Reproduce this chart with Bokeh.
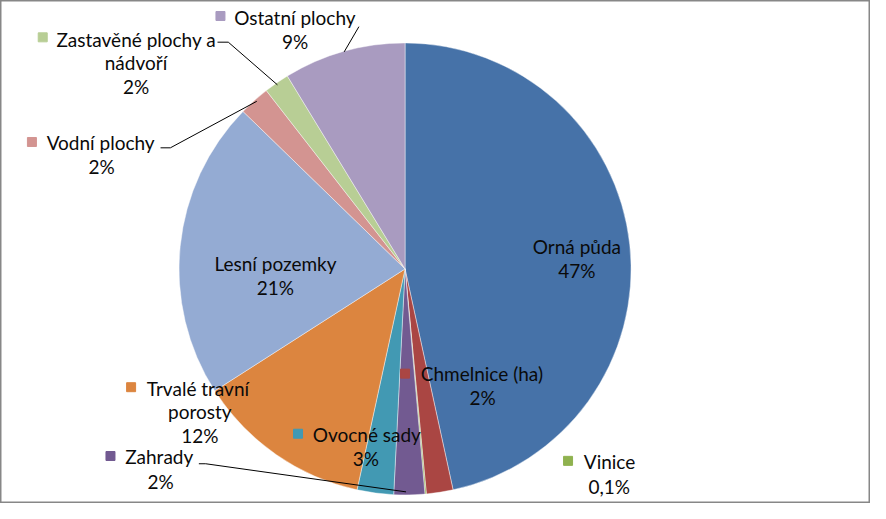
import math
from bokeh.plotting import figure
from bokeh.models import Range1d, ColumnDataSource
from bokeh.core.properties import value
from bokeh.embed import file_html
from bokeh.resources import INLINE

# ---- data (clockwise from 12 o'clock) ----
categories = ["Orná půda", "Chmelnice (ha)", "Vinice", "Zahrady", "Ovocné sady",
              "Trvalé travní porosty", "Lesní pozemky", "Vodní plochy",
              "Zastavěné plochy a nádvoří", "Ostatní plochy"]
shares = [46.5, 1.9, 0.1, 2.2, 2.6, 12.5, 21.3, 2.2, 1.8, 8.7]
pct_labels = ["47%", "2%", "0,1%", "2%", "3%", "12%", "21%", "2%", "2%", "9%"]
colors = ["#4672A8", "#AA4643", "#8FB24F", "#725A91", "#4299B3",
          "#DC853F", "#94ABD3", "#D39491", "#B8CE95", "#A99BC0"]

W, H = 886, 519                     # reference canvas (layout coordinates)
FW, FH = 870, 503                   # figure size
CX, CY = 412, 277                   # pie centre (layout coordinates)
R_SCREEN = 226                      # pie radius in screen pixels

def fy(y):                          # layout y (top-down) -> data y
    return H - y

p = figure(width=FW, height=FH, output_backend="svg", toolbar_location=None,
           x_range=Range1d(0, W), y_range=Range1d(0, H), min_border=0)
p.axis.visible = False
p.grid.visible = False
p.background_fill_color = "white"
p.border_fill_color = "white"
p.outline_line_color = "#878787"
p.outline_line_width = 2

total = sum(shares)
starts, ends = [], []
cum = 0.0
for s in shares:
    a0 = math.pi / 2 - 2 * math.pi * cum / total
    cum += s
    a1 = math.pi / 2 - 2 * math.pi * cum / total
    starts.append(a1)
    ends.append(a0)

src = ColumnDataSource(dict(x=[CX] * len(shares), y=[fy(CY)] * len(shares),
                            start=starts, end=ends, color=colors))
p.wedge(x="x", y="y", radius=R_SCREEN, radius_units="screen", start_angle="start",
        end_angle="end", direction="anticlock", fill_color="color",
        line_color="white", line_width=0.6, line_alpha=0.7, source=src)

# ---- label layout (layout coordinates) ----
FS = "19px"
FONT = value("Lato")
labels = {
    0: dict(lines=[("Orná půda", 587, 254, "center"), (pct_labels[0], 587, 279, "center")]),
    1: dict(key=(412, 385), lines=[("Chmelnice (ha)", 428, 385, "left"), (pct_labels[1], 491, 410, "center")]),
    2: dict(key=(578, 475), lines=[("Vinice", 594, 476, "left"), (pct_labels[2], 620, 501, "center")]),
    3: dict(key=(112, 470), lines=[("Zahrady", 127, 471, "left"), (pct_labels[3], 163, 496, "center")],
            leader=[(202, 478), (209, 478), (413, 507)]),
    4: dict(key=(303, 447), lines=[("Ovocné sady", 318, 448, "left"), (pct_labels[4], 372, 473, "center")]),
    5: dict(key=(133, 399), lines=[("Trvalé travní", 149, 400, "left"), ("porosty", 203, 424, "center"),
                                   (pct_labels[5], 203, 449, "center")]),
    6: dict(lines=[("Lesní pozemky", 280, 271, "center"), (pct_labels[6], 280, 296, "center")]),
    7: dict(key=(32, 146), lines=[("Vodní plochy", 47, 147, "left"), (pct_labels[7], 103, 171, "center")],
            leader=[(163, 152), (173, 152), (261, 104)]),
    8: dict(key=(43, 38), lines=[("Zastavěné plochy a", 57, 40, "left"), ("nádvoří", 138, 64, "center"),
                                 (pct_labels[8], 138, 89, "center")],
            leader=[(221, 43), (232, 43), (282, 87)]),
    9: dict(key=(224, 16), lines=[("Ostatní plochy", 238, 18, "left"), (pct_labels[9], 300, 42, "center")],
            leader=[(365, 27), (350, 53)]),
}

for i, lab in labels.items():
    if "leader" in lab:
        pts = lab["leader"]
        p.line([q[0] for q in pts], [fy(q[1]) for q in pts], line_color="black", line_width=1)
    if "key" in lab:
        kx, ky = lab["key"]
        p.scatter([kx], [fy(ky)], marker="square", size=9, fill_color=colors[i],
                  line_color=colors[i])
    for (t, x, y, al) in lab["lines"]:
        p.text([x], [fy(y)], text=[t], text_font=FONT, text_font_size=FS,
               text_align=al, text_baseline="middle", text_color="#0a0a0a")

open("out.html", "w").write(file_html(p, INLINE))
